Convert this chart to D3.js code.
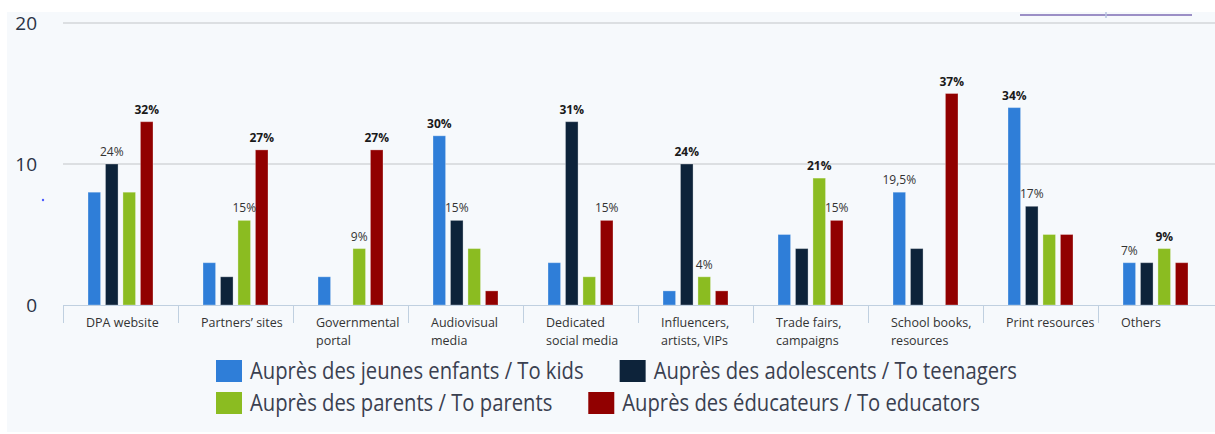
<!DOCTYPE html>
<html>
<head>
<meta charset="utf-8">
<script src="https://cdn.jsdelivr.net/npm/d3@7"></script>
<style>
  body { margin: 0; background: #fff; }
  svg { display: block; }
</style>
</head>
<body>
<div id="chart"></div>
<script>
// channels, one group per channel
const categories = [
  ["DPA website"],
  ["Partners’ sites"],
  ["Governmental", "portal"],
  ["Audiovisual", "media"],
  ["Dedicated", "social media"],
  ["Influencers,", "artists, VIPs"],
  ["Trade fairs,", "campaigns"],
  ["School books,", "resources"],
  ["Print resources"],
  ["Others"]
];

const seriesNames = [
  "Auprès des jeunes enfants / To kids",
  "Auprès des adolescents / To teenagers",
  "Auprès des parents / To parents",
  "Auprès des éducateurs / To educators"
];
const seriesColors = ["#2f7ed8", "#0d233a", "#8bbc21", "#910000"];

const kids      = [8, 3, 2, 12, 3, 1, 5, 8, 14, 3];
const teens     = [10, 2, 0, 6, 13, 10, 4, 4, 7, 3];
const parents   = [8, 6, 4, 4, 2, 2, 9, 0, 5, 4];
const educators = [13, 11, 11, 1, 6, 1, 6, 15, 5, 3];

const yTicks = [0, 10, 20];

// percentage notes: [category, series, text, bold]
const notes = [
  [0, 1, "24%", false], [0, 3, "32%", true],
  [1, 2, "15%", false], [1, 3, "27%", true],
  [2, 2, "9%", false],  [2, 3, "27%", true],
  [3, 0, "30%", true],  [3, 1, "15%", false],
  [4, 1, "31%", true],  [4, 3, "15%", false],
  [5, 1, "24%", true],  [5, 2, "4%", false],
  [6, 2, "21%", true],  [6, 3, "15%", false],
  [7, 0, "19,5%", false], [7, 3, "37%", true],
  [8, 0, "34%", true],  [8, 1, "17%", false],
  [9, 0, "7%", false],  [9, 2, "9%", true]
];

var drawChart = function (domSelector) {
  const width = 1215, height = 434;
  const values = [kids, teens, parents, educators];
  const legendSqueeze = 0.88; // legend font in the original is narrow

  var svg = d3.select(domSelector)
    .append('svg')
      .attr('width', width)
      .attr('height', height)
      .style('font-family', '"Open Sans", sans-serif');

  // panel
  svg.append('rect')
    .attr('x', 7).attr('y', 12)
    .attr('width', width - 7).attr('height', 420)
    .attr('fill', '#f6f9fc');

  var x0 = d3.scaleBand()
    .domain(d3.range(categories.length))
    .range([63, 1213]);

  var x1 = d3.scaleBand()
    .domain(d3.range(seriesNames.length))
    .range([25, 90])
    .paddingInner(0.28);

  var y = d3.scaleLinear()
    .domain([0, 20])
    .range([305, 23]);

  // grid
  svg.append('g')
    .selectAll('line')
    .data(yTicks.filter(d => d > 0))
    .enter()
      .append('line')
        .attr('x1', 63).attr('x2', width)
        .attr('y1', d => y(d)).attr('y2', d => y(d))
        .attr('stroke', '#d3d6da')
        .attr('stroke-width', 1.5);

  // y labels
  svg.append('g')
    .selectAll('text')
    .data(yTicks)
    .enter()
      .append('text')
        .attr('x', 37)
        .attr('y', d => y(d))
        .attr('dy', '0.36em')
        .attr('text-anchor', 'end')
        .attr('font-size', 19)
        .attr('fill', '#2a3346')
        .text(d => d);

  // bars
  var groups = svg.append('g')
    .selectAll('g')
    .data(categories)
    .enter()
      .append('g')
        .attr('transform', (d, i) => 'translate(' + x0(i) + ',0)');

  groups.selectAll('rect')
    .data((d, i) => values.map((v, s) => ({ s: s, v: v[i] })))
    .enter()
      .append('rect')
        .attr('x', d => x1(d.s))
        .attr('y', d => y(d.v))
        .attr('width', x1.bandwidth())
        .attr('height', d => y(0) - y(d.v))
        .attr('fill', d => seriesColors[d.s])
        .attr('stroke', '#ffffff')
        .attr('stroke-opacity', 0.3)
        .attr('stroke-width', 1);

  // x axis line and ticks
  svg.append('line')
    .attr('x1', 63).attr('x2', width)
    .attr('y1', y(0) + 0.5).attr('y2', y(0) + 0.5)
    .attr('stroke', '#c0d0e0');

  svg.append('g')
    .selectAll('line')
    .data(d3.range(categories.length))
    .enter()
      .append('line')
        .attr('x1', d => x0(d) + 0.5).attr('x2', d => x0(d) + 0.5)
        .attr('y1', y(0)).attr('y2', y(0) + 18)
        .attr('stroke', '#c0d0e0');

  // category labels
  svg.append('g')
    .selectAll('text')
    .data(categories)
    .enter()
      .append('text')
        .attr('font-size', 12.5)
        .attr('fill', '#333')
        .each(function (d, i) {
          d3.select(this).selectAll('tspan')
            .data(d)
            .enter()
              .append('tspan')
                .attr('x', x0(i) + 23)
                .attr('y', (t, j) => 327 + j * 18)
                .text(t => t);
        });

  // percentage notes
  svg.append('g')
    .selectAll('text')
    .data(notes)
    .enter()
      .append('text')
        .attr('x', d => x0(d[0]) + x1(d[1]) + x1.bandwidth() / 2)
        .attr('y', d => y(values[d[1]][d[0]]) - 8)
        .attr('text-anchor', 'middle')
        .attr('font-size', 12)
        .attr('font-weight', d => d[3] ? 'bold' : 'normal')
        .attr('fill', d => d[3] ? '#1a1a1a' : '#333')
        .text(d => d[2]);

  // legend, two per row
  var legend = svg.append('g');
  var lx = 216;
  seriesNames.forEach(function (name, i) {
    var row = Math.floor(i / 2);
    if (i % 2 === 0) { lx = 216; }
    var top = 360 + row * 32;
    legend.append('rect')
      .attr('x', lx).attr('y', top)
      .attr('width', 26).attr('height', 22)
      .attr('fill', seriesColors[i]);
    var t = legend.append('text')
      .attr('transform', 'translate(' + (lx + 34) + ',' + (top + 19) + ') scale(' + legendSqueeze + ',1)')
      .attr('font-size', 23)
      .attr('fill', '#3a4050')
      .text(name);
    lx = lx + 34 + t.node().getComputedTextLength() * legendSqueeze + 36;
  });

  // leftover bits at the top right and a stray dot
  svg.append('line')
    .attr('x1', 1020).attr('x2', 1192)
    .attr('y1', 15).attr('y2', 15)
    .attr('stroke', '#9b8fc6').attr('stroke-width', 2);
  svg.append('line')
    .attr('x1', 1106).attr('x2', 1106)
    .attr('y1', 12).attr('y2', 18)
    .attr('stroke', '#b8c4e0').attr('stroke-width', 1.5);
  svg.append('circle')
    .attr('cx', 43).attr('cy', 200).attr('r', 1.2)
    .attr('fill', '#4d5cff');
};

drawChart('#chart');
</script>
</body>
</html>
